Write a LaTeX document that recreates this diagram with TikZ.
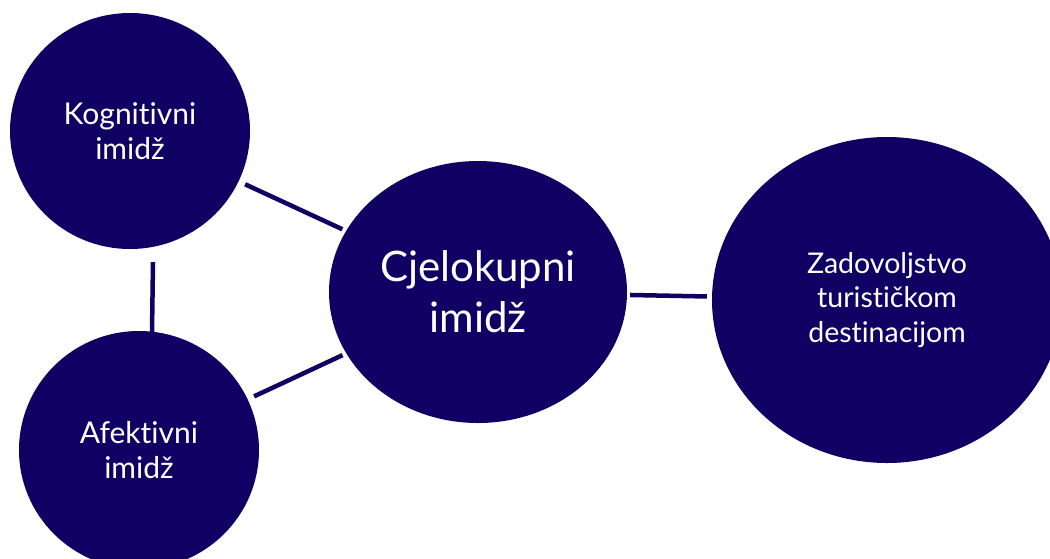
\documentclass[tikz,border=0pt]{standalone}
\usepackage{fontspec}
\setmainfont{Lato}[Ligatures={NoCommon}]
\usetikzlibrary{shapes.geometric,calc}
\definecolor{navy}{RGB}{17,0,99}
\begin{document}
\begin{tikzpicture}[x=1pt,y=-1pt,
  bubble/.style={ellipse, fill=navy, text=white, inner sep=0pt, align=center},
  small/.style={font=\fontsize{30}{35}\selectfont},
  big/.style={font=\fontsize{42}{51}\selectfont},
  link/.style={draw=navy, line width=4.5pt}]
\useasboundingbox (0,0) rectangle (1050,558);
\clip (0,0) rectangle (1050,558);
\node[bubble, small, minimum width=240pt, minimum height=236pt] (k) at (130,131) {Kognitivni\\imidž};
\node[bubble, small, minimum width=240pt, minimum height=238pt] (a) at (139,450) {Afektivni\\imidž};
\node[bubble, big, minimum width=298pt, minimum height=262pt] (c) at (478,292) {Cjelokupni\\imidž};
\node[bubble, font=\fontsize{28.5}{34.5}\selectfont, minimum width=350pt, minimum height=326pt] (z) at (887,300) {Zadovoljstvo\\turističkom\\destinacijom};
\draw[link, shorten <=7pt, shorten >=4pt] (k) -- (c);
\draw[link, shorten <=7pt, shorten >=4pt] (a) -- (c);
\draw[link, shorten <=3pt, shorten >=5pt] (c) -- (z);
\draw[link] ($(k.south)+(23,13)$) -- ($(a.north)+(13,1)$);
\end{tikzpicture}
\end{document}
